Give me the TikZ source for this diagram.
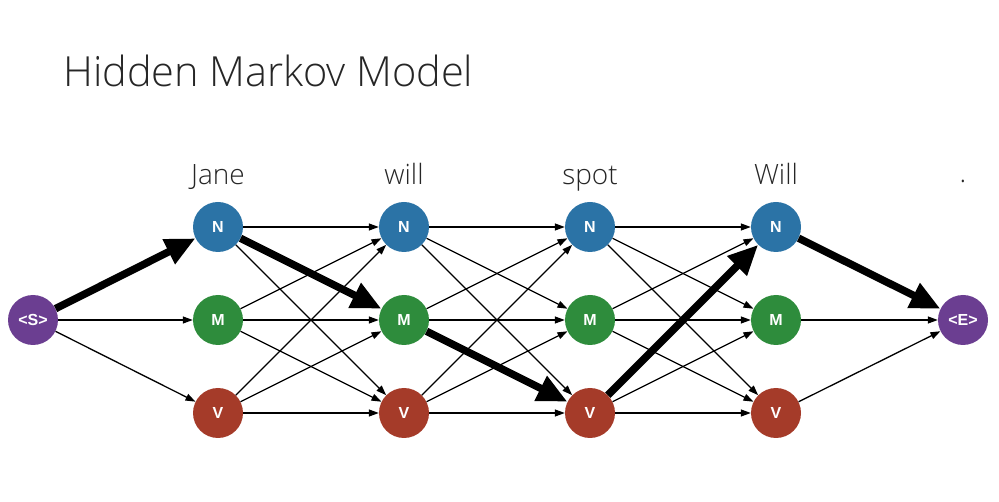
\documentclass[tikz,border=0pt]{standalone}
\usepackage{fontspec}
\setmainfont{Liberation Sans}
\newfontfamily\lightfont{Open Sans Light}
\usetikzlibrary{positioning,arrows.meta}

\definecolor{nBlue}{RGB}{43,115,166}
\definecolor{mGreen}{RGB}{46,140,60}
\definecolor{vRed}{RGB}{165,59,41}
\definecolor{sPurple}{RGB}{107,62,145}

\tikzset{
  state/.style={circle, minimum size=50pt, inner sep=0pt, text=white,
    font=\fontsize{16}{16}\selectfont\bfseries},
  word/.style={anchor=base, inner sep=0pt, text=black!85,
    font=\lightfont\fontsize{28}{28}\selectfont},
  edge/.style={-{Triangle[length=10pt,width=7pt]}, line width=1.3pt},
  best/.style={-{Triangle[length=30pt,width=26pt]}, line width=7.5pt},
}

\begin{document}
\begin{tikzpicture}[node distance=93pt, on grid]
 \useasboundingbox (0,0) rectangle (999pt,-502pt);
 \node[anchor=base west, inner sep=0pt, text=black!85,
   font=\lightfont\fontsize{41.5}{41.5}\selectfont] (title) at (63pt,-87pt) {Hidden Markov Model};

 \node[state, fill=sPurple] (S) at (33pt,-320pt) {<S>};
 \node[state, fill=mGreen, right=185pt of S] (M1) {M};
 \node[state, fill=nBlue, above=of M1] (N1) {N};
 \node[state, fill=vRed, below=of M1] (V1) {V};
 \node[state, fill=mGreen, right=186pt of M1] (M2) {M};
 \node[state, fill=nBlue, above=of M2] (N2) {N};
 \node[state, fill=vRed, below=of M2] (V2) {V};
 \node[state, fill=mGreen, right=186pt of M2] (M3) {M};
 \node[state, fill=nBlue, above=of M3] (N3) {N};
 \node[state, fill=vRed, below=of M3] (V3) {V};
 \node[state, fill=mGreen, right=186pt of M3] (M4) {M};
 \node[state, fill=nBlue, above=of M4] (N4) {N};
 \node[state, fill=vRed, below=of M4] (V4) {V};
 \node[state, fill=sPurple, right=187pt of M4] (E) {<E>};

 % the sentence
 \node[above=42pt of N1, word] (jane) {Jane};
 \node[above=42pt of N2, word] (will) {will};
 \node[above=42pt of N3, word] (spot) {spot};
 \node[above=42pt of N4, word] (Will) {Will};
 \node[above=137pt of E, word] (stop) {.};

 % all transitions
 \foreach \u/\v in {S/M1, S/V1,
   N1/N2, N1/V2, M1/N2, M1/M2, M1/V2, V1/N2, V1/M2, V1/V2,
   N2/N3, N2/M3, N2/V3, M2/N3, M2/M3, V2/N3, V2/M3, V2/V3,
   N3/N4, N3/M4, N3/V4, M3/N4, M3/M4, M3/V4, V3/M4, V3/V4,
   M4/E, V4/E}
   \draw[edge] (\u) -- (\v);

 % best path
 \foreach \u/\v in {S/N1, N1/M2, M2/V3, V3/N4, N4/E}
   \draw[best] (\u) -- (\v);
\end{tikzpicture}
\end{document}
